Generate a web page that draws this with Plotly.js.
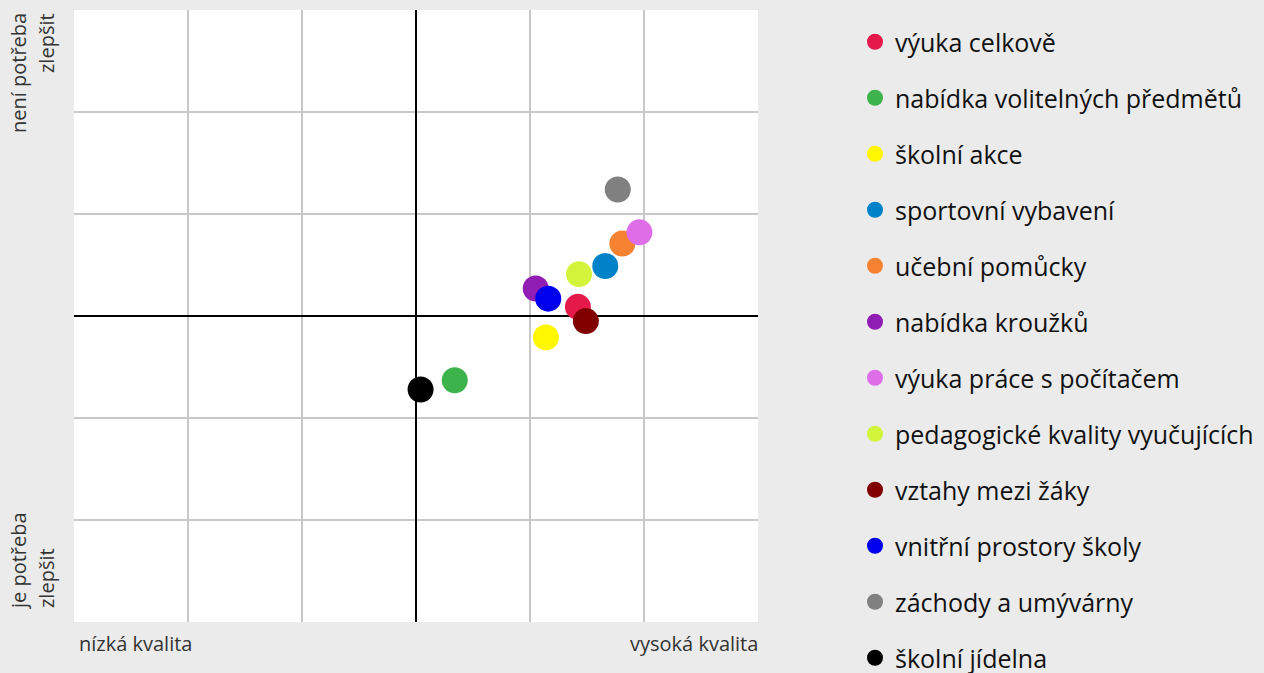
<!DOCTYPE html>
<html>
<head>
<meta charset="utf-8">
<script src="https://cdn.plot.ly/plotly-3.0.1.min.js"></script>
<style>
html,body{margin:0;padding:0;background:#ebebeb;}
#chart{width:1264px;height:673px;}
</style>
</head>
<body>
<div id="chart"></div>
<script>
// Categories (legend order = draw order)
const categories = [
  "výuka celkově",
  "nabídka volitelných předmětů",
  "školní akce",
  "sportovní vybavení",
  "učební pomůcky",
  "nabídka kroužků",
  "výuka práce s počítačem",
  "pedagogické kvality vyučujících",
  "vztahy mezi žáky",
  "vnitřní prostory školy",
  "záchody a umývárny",
  "školní jídelna"
];
// quality (x) and no-need-to-improve (y) scores
const xValues = [1.42, 0.34, 1.14, 1.66, 1.81, 1.05, 1.96, 1.43, 1.49, 1.16, 1.77, 0.04];
const yValues = [0.09, -0.63, -0.21, 0.49, 0.71, 0.27, 0.82, 0.41, -0.05, 0.17, 1.24, -0.72];
const colors = ["#e6194b", "#3cb44b", "#fff700", "#0082c8", "#f58231", "#911eb4",
                "#dd6ee8", "#d2f53c", "#800000", "#0000ee", "#808080", "#000000"];

// axis end labels
const xLowLabel = "nízká kvalita";
const xHighLabel = "vysoká kvalita";
const yHighLabel = ["není potřeba", "zlepšit"];
const yLowLabel = ["je potřeba", "zlepšit"];

const FONT = "Open Sans, Noto Sans, sans-serif";

const traces = categories.map((name, i) => ({
  type: "scatter",
  mode: "markers",
  name: name,
  legendgroup: "g" + i,
  x: [xValues[i]],
  y: [yValues[i]],
  marker: {color: colors[i], size: 26, line: {width: 0}},
  hoverinfo: "name"
}));

const axisCommon = {
  range: [-3, 3],
  tickvals: [-2, -1, 1, 2],
  showticklabels: false,
  ticks: "",
  showgrid: true,
  gridcolor: "#c8c8c8",
  gridwidth: 2,
  zeroline: true,
  zerolinecolor: "#000000",
  zerolinewidth: 2.2,
  showline: false,
  fixedrange: true
};

const L = 74, R = 758, T = 10, B = 622;
const pw = R - L, ph = B - T;
const px = v => (v - L) / pw;
const py = v => (B - v) / ph;

const annFont = {family: FONT, size: 20, color: "#333333"};

const annotations = [
  {text: xLowLabel, xref: "paper", yref: "paper", x: px(77), y: 0, xanchor: "left", yanchor: "middle", yshift: -21, showarrow: false, font: annFont},
  {text: xHighLabel, xref: "paper", yref: "paper", x: px(760), y: 0, xanchor: "right", yanchor: "middle", yshift: -21, showarrow: false, font: annFont},
  {text: yHighLabel[0], xref: "paper", yref: "paper", x: px(18), y: py(11), xanchor: "center", yanchor: "top", textangle: -90, showarrow: false, font: annFont},
  {text: yHighLabel[1], xref: "paper", yref: "paper", x: px(46), y: py(11), xanchor: "center", yanchor: "top", textangle: -90, showarrow: false, font: annFont},
  {text: yLowLabel[0], xref: "paper", yref: "paper", x: px(18), y: py(612), xanchor: "center", yanchor: "bottom", textangle: -90, showarrow: false, font: annFont},
  {text: yLowLabel[1], xref: "paper", yref: "paper", x: px(46), y: py(610), xanchor: "center", yanchor: "bottom", textangle: -90, showarrow: false, font: annFont}
];

const layout = {
  width: 1264,
  height: 673,
  margin: {l: L, r: 1264 - R, t: T, b: 673 - B, pad: 0},
  paper_bgcolor: "#ebebeb",
  plot_bgcolor: "#ffffff",
  font: {family: FONT, color: "#111111"},
  showlegend: true,
  legend: {
    xref: "container", yref: "container",
    x: 855 / 1264, xanchor: "left",
    y: 1 - 19 / 673, yanchor: "top",
    maxheight: 673,
    bgcolor: "rgba(0,0,0,0)",
    borderwidth: 0,
    font: {family: FONT, size: 25, color: "#111111"},
    tracegroupgap: 20.5,
    itemclick: false,
    itemdoubleclick: false
  },
  xaxis: Object.assign({}, axisCommon),
  yaxis: Object.assign({}, axisCommon),
  annotations: annotations
};

Plotly.newPlot("chart", traces, layout, {displayModeBar: false, staticPlot: true});
</script>
</body>
</html>
